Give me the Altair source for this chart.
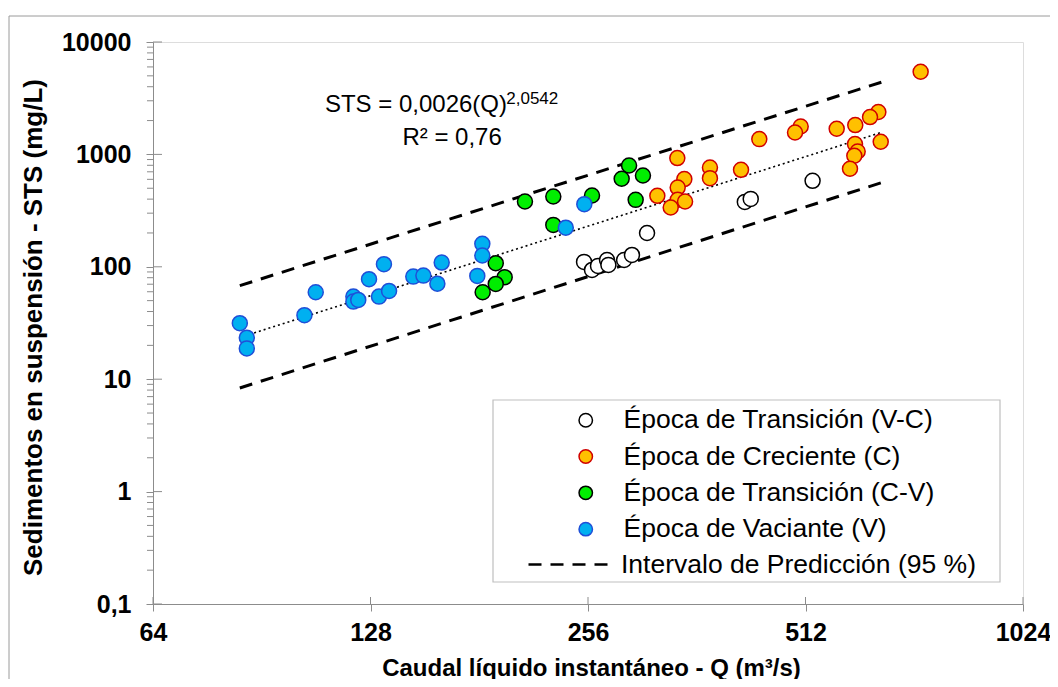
import altair as alt
import pandas as pd

FONT = "Liberation Sans"

# ---------------- data ----------------
series_names = ["Época de Transición (V-C)", "Época de Creciente (C)",
                "Época de Transición (C-V)", "Época de Vaciante (V)"]
fill_colors = ["#FFFFFF", "#FFC000", "#00EE00", "#00B0F0"]
stroke_colors = ["#000000", "#D00000", "#000000", "#1F4FD8"]

vc_q = [252.8, 259.3, 264.3, 272.0, 273.2, 287.2, 294.5, 309.0, 422.0, 430.0, 523.7]
vc_sts = [110.6, 93.8, 101.9, 115.0, 104.0, 115.0, 127.6, 200.0, 378.0, 402.0, 582.0]

c_q = [739.0, 645.8, 628.9, 650.7, 600.0, 565.5, 504.2, 495.2, 441.9, 599.5, 604.6, 598.2,
       590.0, 416.9, 377.6, 377.6, 340.3, 348.0, 340.7, 340.7, 348.8, 319.3, 333.2]
c_sts = [5440, 2382, 2148, 1295, 1823, 1690, 1772, 1567, 1368, 1235, 1062, 972,
         745, 729, 764, 615, 927, 603, 507, 394, 381, 428, 337]

cv_q = [183.0, 190.8, 196.3, 190.8, 209.4, 229.2, 229.2, 259.3, 291.8, 285.0, 305.0, 298.0]
cv_sts = [59.4, 107.7, 80.8, 70.4, 381, 422, 236, 431, 796, 607, 649, 394]

v_q = [84.4, 86.3, 86.3, 103.7, 107.5, 121.2, 121.2, 123.1, 127.4, 133.6, 131.5, 135.8,
       146.7, 151.5, 158.4, 160.6, 179.9, 182.8, 182.8, 238.5, 253.0]
v_sts = [31.5, 23.4, 18.8, 37.1, 59.4, 54.3, 49.0, 50.7, 77.6, 105.5, 54.3, 61.0,
         81.8, 83.5, 70.8, 109, 83, 160, 126, 223, 361]

# fitted power law and 95 % prediction interval (end points)
fit_q = [84.4, 653.0]
fit_sts = [23.5, 1575.0]
pi_q = [84.4, 653.0]
pi_upper = [68.0, 4400.0]
pi_lower = [8.35, 562.0]
pi_name = "Intervalo de Predicción (95 %)"

x_ticks = [64, 128, 256, 512, 1024]
y_ticks = [0.1, 1, 10, 100, 1000, 10000]
y_minor = [m * 10 ** e for e in range(-1, 4) for m in range(2, 10)]

eq_main = "STS = 0,0026(Q)"
eq_exp = "2,0542"
eq_r2 = "R² = 0,76"

# ---------------- tables ----------------
pts = pd.DataFrame({
    "q": vc_q + c_q + cv_q + v_q,
    "sts": vc_sts + c_sts + cv_sts + v_sts,
    "epoca": [series_names[0]] * len(vc_q) + [series_names[1]] * len(c_q)
             + [series_names[2]] * len(cv_q) + [series_names[3]] * len(v_q),
})
fit = pd.DataFrame({"q": fit_q, "sts": fit_sts})
pi = pd.DataFrame({
    "q": pi_q + pi_q,
    "sts": pi_upper + pi_lower,
    "grp": ["up", "up", "lo", "lo"],
    "serie": [pi_name] * 4,
})
xt = pd.DataFrame({"q": x_ticks})
yt = pd.DataFrame({"sts": y_ticks})
ym = pd.DataFrame({"sts": y_minor})
ann_main = pd.DataFrame({"q": [110.7], "sts": [2362], "t": [eq_main]})
ann_exp = pd.DataFrame({"q": [197.3], "sts": [2822], "t": [eq_exp]})
ann_r2 = pd.DataFrame({"q": [166.0], "sts": [1218], "t": [eq_r2]})

# ---------------- scales / axes ----------------
AX_GRAY = "#8C8C8C"
xscale = alt.Scale(type="log", base=2, domain=[64, 1024], nice=False)
yscale = alt.Scale(type="log", domain=[0.1, 10000], nice=False)

xaxis = alt.Axis(values=x_ticks, format="d", grid=False, tickSize=7, tickColor=AX_GRAY,
                 domainColor=AX_GRAY, labelFont=FONT, labelFontSize=25, labelFontWeight="bold",
                 labelColor="black", labelPadding=9, labelFlush=False,
                 title="Caudal líquido instantáneo - Q (m³/s)", titleFont=FONT, titleFontSize=24,
                 titleFontWeight="bold", titleColor="black", titleX=438, titleY=64,
                 titleBaseline="middle", titleAlign="center")
yaxis = alt.Axis(values=y_ticks, labelExpr="replace(toString(datum.value), '.', ',')",
                 grid=False, tickSize=7, tickColor=AX_GRAY, domainColor=AX_GRAY,
                 labelFont=FONT, labelFontSize=25, labelFontWeight="bold", labelColor="black",
                 labelPadding=15, labelFlush=False,
                 title="Sedimentos en suspensión - STS (mg/L)", titleFont=FONT, titleFontSize=26,
                 titleFontWeight="bold", titleColor="black", titleX=-120, titleY=285,
                 titleAngle=-90, titleBaseline="middle", titleAlign="center")

X = alt.X("q:Q", scale=xscale, axis=xaxis)
Y = alt.Y("sts:Q", scale=yscale, axis=yaxis)

one = pd.DataFrame({"a": [0]})

frame = alt.Chart(one).mark_rect(fillOpacity=0, stroke="#9A9A9A", strokeWidth=1).encode(
    x=alt.value(-144), x2=alt.value(1100), y=alt.value(-26), y2=alt.value(800))

legend_box = alt.Chart(one).mark_rect(fill="white", stroke="#BFBFBF", strokeWidth=1.2).encode(
    x=alt.value(340), x2=alt.value(847), y=alt.value(358), y2=alt.value(540))

minor = alt.Chart(ym).mark_rule(color=AX_GRAY, strokeWidth=1).encode(
    y=Y, x=alt.value(-6), x2=alt.value(0))
y_inner = alt.Chart(yt).mark_rule(color=AX_GRAY, strokeWidth=1).encode(
    y=Y, x=alt.value(0), x2=alt.value(9))
x_inner = alt.Chart(xt).mark_rule(color=AX_GRAY, strokeWidth=1).encode(
    x=X, y=alt.value(562), y2=alt.value(555))

pi_lines = alt.Chart(pi).mark_line(color="black", strokeWidth=3).encode(
    x=X, y=Y, detail="grp:N",
    strokeDash=alt.StrokeDash("serie:N", scale=alt.Scale(domain=[pi_name], range=[[13, 9]]),
                              legend=alt.Legend(title=None, orient="none", legendX=374, legendY=477,
                                                symbolType="stroke", symbolSize=7744,
                                                symbolStrokeWidth=2.5, symbolStrokeColor="black",
                                                labelFont=FONT, labelFontSize=26.5, labelColor="black",
                                                labelOffset=3, labelLimit=600, padding=0)))

fit_line = alt.Chart(fit).mark_line(color="black", strokeWidth=1.6, strokeDash=[2, 3]).encode(x=X, y=Y)

leg1 = alt.Legend(title=None, orient="none", legendX=419.5, legendY=365, symbolType="circle",
                  symbolSize=180, symbolStrokeWidth=1.5, labelFont=FONT, labelFontSize=26.5,
                  labelColor="black", labelOffset=24.5, labelLimit=600, rowPadding=9.3, padding=0)

points = alt.Chart(pts).mark_circle(size=225, opacity=1, strokeWidth=1.5).encode(
    x=X, y=Y,
    fill=alt.Fill("epoca:N", scale=alt.Scale(domain=series_names, range=fill_colors), legend=leg1),
    stroke=alt.Stroke("epoca:N", scale=alt.Scale(domain=series_names, range=stroke_colors), legend=leg1),
    order=alt.value(0))

t_main = alt.Chart(ann_main).mark_text(font=FONT, fontSize=24, align="left", baseline="alphabetic",
                                       color="black").encode(x=X, y=Y, text="t:N")
t_exp = alt.Chart(ann_exp).mark_text(font=FONT, fontSize=17, align="left", baseline="alphabetic",
                                     color="black").encode(x=X, y=Y, text="t:N")
t_r2 = alt.Chart(ann_r2).mark_text(font=FONT, fontSize=24, align="center", baseline="alphabetic",
                                   color="black").encode(x=X, y=Y, text="t:N")

chart = alt.layer(
    frame, legend_box, minor, y_inner, x_inner, pi_lines, fit_line, points, t_main, t_exp, t_r2
).properties(
    width=870, height=562,
    autosize=alt.AutoSizeParams(type="none"),
    padding={"left": 145, "top": 34, "right": 27, "bottom": 75},
).configure_view(stroke=None).configure(background="white")

chart.save("out.html", embed_options={"renderer": "svg", "actions": False})
